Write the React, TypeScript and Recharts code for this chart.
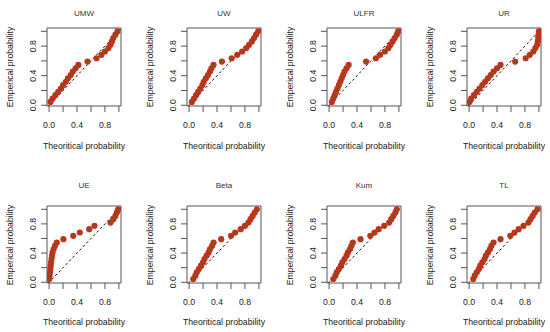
import { ScatterChart, Scatter, XAxis, YAxis, ReferenceLine, ReferenceArea } from 'recharts';

// empirical probabilities (i / n), shared by every panel
const empiricalProb = [0.045, 0.091, 0.136, 0.182, 0.227, 0.273, 0.318, 0.364, 0.409, 0.455, 0.5, 0.545, 0.591, 0.636, 0.682, 0.727, 0.773, 0.818, 0.864, 0.909, 0.955, 1.0];

// theoretical probabilities per fitted model
const umwProb = [0.02, 0.05, 0.09, 0.13, 0.17, 0.2, 0.24, 0.27, 0.31, 0.34, 0.38, 0.42, 0.55, 0.68, 0.75, 0.8, 0.85, 0.88, 0.9, 0.92, 0.95, 0.98];
const uwProb = [0.04, 0.07, 0.1, 0.13, 0.16, 0.19, 0.21, 0.24, 0.27, 0.3, 0.32, 0.35, 0.47, 0.61, 0.69, 0.76, 0.82, 0.86, 0.9, 0.93, 0.96, 0.99];
const ulfrProb = [0.04, 0.06, 0.08, 0.1, 0.12, 0.14, 0.16, 0.18, 0.2, 0.22, 0.25, 0.28, 0.53, 0.67, 0.73, 0.8, 0.85, 0.88, 0.91, 0.94, 0.97, 0.99];
const urProb = [0.005, 0.03, 0.07, 0.11, 0.15, 0.19, 0.23, 0.27, 0.31, 0.35, 0.4, 0.45, 0.66, 0.81, 0.87, 0.92, 0.95, 0.975, 0.985, 0.99, 0.995, 1.0];
const ueProb = [0.003, 0.008, 0.013, 0.018, 0.023, 0.028, 0.035, 0.042, 0.05, 0.065, 0.085, 0.11, 0.205, 0.346, 0.44, 0.575, 0.65, 0.88, 0.92, 0.95, 0.97, 0.99];
const betaProb = [0.06, 0.09, 0.11, 0.14, 0.17, 0.2, 0.22, 0.25, 0.28, 0.3, 0.33, 0.35, 0.46, 0.6, 0.66, 0.74, 0.8, 0.85, 0.88, 0.91, 0.94, 0.97];
const kumProb = [0.06, 0.09, 0.11, 0.14, 0.17, 0.19, 0.22, 0.25, 0.27, 0.3, 0.32, 0.34, 0.45, 0.59, 0.65, 0.71, 0.79, 0.86, 0.89, 0.92, 0.95, 0.97];
const tlProb = [0.06, 0.08, 0.11, 0.14, 0.16, 0.19, 0.22, 0.24, 0.27, 0.3, 0.32, 0.35, 0.45, 0.59, 0.65, 0.71, 0.78, 0.85, 0.88, 0.91, 0.94, 0.98];

const titles = ['UMW', 'UW', 'ULFR', 'UR', 'UE', 'Beta', 'Kum', 'TL'];
const models = [umwProb, uwProb, ulfrProb, urProb, ueProb, betaProb, kumProb, tlProb];

const tickValues = [0, 0.2, 0.4, 0.6, 0.8, 1];
const labeledTicks = [0, 0.4, 0.8];

const X_DOMAIN: [number, number] = [-0.03, 1.03];
const Y_DOMAIN: [number, number] = [-0.01, 1.045];

const colLeft = [47, 187, 327, 467];
const rowTop = [28, 206];
const rowH = [78, 77];
const titleY = [13, 185];
const xTitleY = [146, 322];
const PLOT_W = 74;
const CHART_W = 140;

const FONT = '"Liberation Sans", Arial, Helvetica, sans-serif';
const AXIS_GREY = '#555';

function XTick(props: any) {
  const { x, y, payload } = props;
  if (!labeledTicks.includes(payload.value)) return null;
  return (
    <text x={x} y={y + 13.5} textAnchor="middle" fontSize={8.7} fill="#222" fontFamily={FONT}>
      {payload.value.toFixed(1)}
    </text>
  );
}

function YTick(props: any) {
  const { x, y, payload } = props;
  if (!labeledTicks.includes(payload.value)) return null;
  const tx = x - 3;
  return (
    <text x={tx} y={y} transform={`rotate(-90 ${tx} ${y})`} textAnchor="middle" fontSize={8.7} fill="#222" fontFamily={FONT}>
      {payload.value.toFixed(1)}
    </text>
  );
}

function Dot(props: any) {
  const { cx, cy } = props;
  if (cx == null || cy == null) return null;
  return (
    <g>
      <circle cx={cx} cy={cy} r={3.1} fill="#d42a1c" />
      <circle cx={cx} cy={cy} r={1.6} fill="#6e5a1c" />
    </g>
  );
}

function Panel({ idx }: { idx: number }) {
  const row = idx < 4 ? 0 : 1;
  const col = idx % 4;
  const plotLeft = colLeft[col];
  const plotTop = rowTop[row];
  const plotH = rowH[row];
  const chartH = 28 + plotH + 30;
  const data = models[idx].map((x, i) => ({ x, y: empiricalProb[i] }));
  const lo = Math.max(X_DOMAIN[0], Y_DOMAIN[0]);
  const hi = Math.min(X_DOMAIN[1], Y_DOMAIN[1]);
  const cx = plotLeft + PLOT_W / 2;

  return (
    <>
      <div style={{ position: 'absolute', left: plotLeft - 47, top: plotTop - 28 }}>
        <ScatterChart width={CHART_W} height={chartH} margin={{ top: 28, left: 17, right: CHART_W - 47 - PLOT_W, bottom: 0 }}>
          <XAxis
            type="number"
            dataKey="x"
            domain={X_DOMAIN}
            ticks={tickValues}
            allowDataOverflow
            axisLine={false}
            tickLine={{ stroke: AXIS_GREY }}
            tickSize={6}
            tickMargin={2}
            height={30}
            tick={<XTick />}
            interval={0}
          />
          <YAxis
            type="number"
            dataKey="y"
            domain={Y_DOMAIN}
            ticks={tickValues}
            allowDataOverflow
            axisLine={false}
            tickLine={{ stroke: AXIS_GREY }}
            tickSize={6}
            tickMargin={2}
            width={30}
            tick={<YTick />}
            interval={0}
          />
          <ReferenceArea x1={X_DOMAIN[0]} x2={X_DOMAIN[1]} y1={Y_DOMAIN[0]} y2={Y_DOMAIN[1]} fill="none" stroke={AXIS_GREY} strokeWidth={1} />
          <Scatter data={data} shape={<Dot />} isAnimationActive={false} />
          <ReferenceLine segment={[{ x: lo, y: lo }, { x: hi, y: hi }]} stroke="#111" strokeWidth={1} strokeDasharray="2.5 2.5" />
        </ScatterChart>
      </div>
      <div style={{ position: 'absolute', left: cx, top: titleY[row], transform: 'translate(-50%, -50%)', fontSize: 8, fontFamily: FONT, color: '#333', whiteSpace: 'nowrap' }}>
        {titles[idx]}
      </div>
      <div style={{ position: 'absolute', left: cx, top: xTitleY[row], transform: 'translate(-50%, -50%)', fontSize: 8.7, fontFamily: FONT, color: '#222', whiteSpace: 'nowrap' }}>
        Theoritical probability
      </div>
      <div style={{ position: 'absolute', left: plotLeft - 37, top: plotTop + plotH / 2, transform: 'translate(-50%, -50%) rotate(-90deg)', fontSize: 8.7, fontFamily: FONT, color: '#222', whiteSpace: 'nowrap' }}>
        Emperical probability
      </div>
    </>
  );
}

export default function App() {
  return (
    <div style={{ position: 'absolute', left: 0, top: 0, width: 550, height: 332, overflow: 'hidden', background: '#fff' }}>
      {titles.map((t, i) => (
        <Panel key={t} idx={i} />
      ))}
    </div>
  );
}
